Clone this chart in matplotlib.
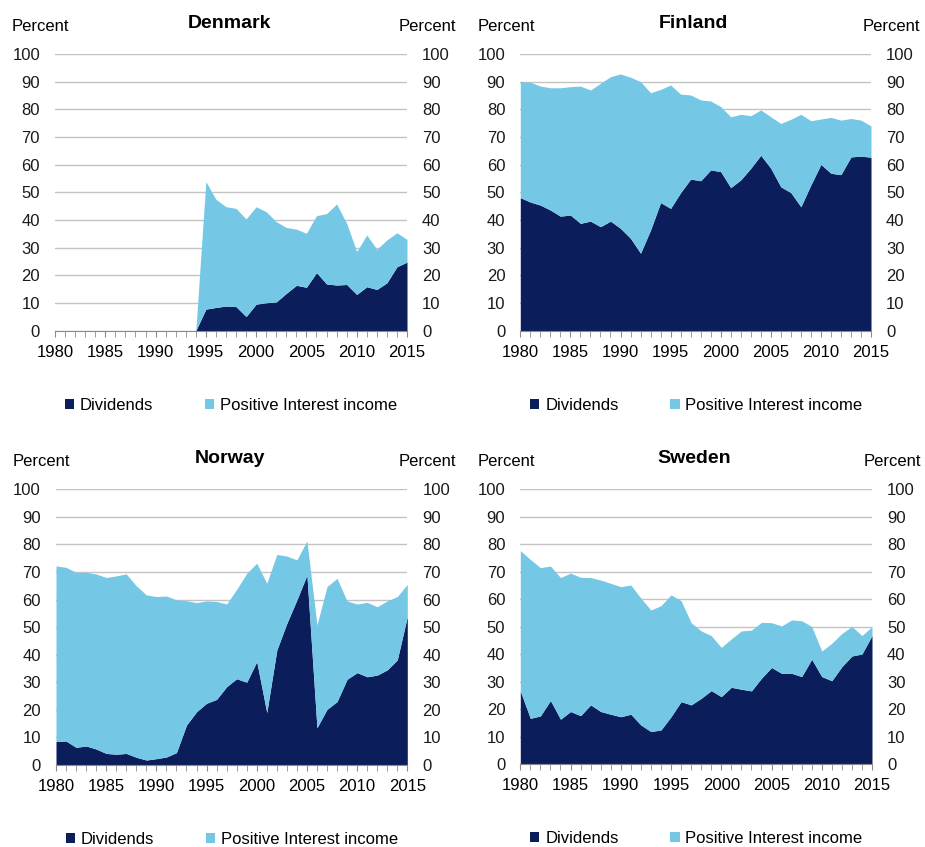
import numpy as np
import matplotlib
matplotlib.use("Agg")
import matplotlib.pyplot as plt
from matplotlib.patches import Patch
from matplotlib.ticker import MultipleLocator

plt.rcParams['font.family'] = ['Liberation Sans', 'DejaVu Sans']

years = np.arange(1980, 2016)

# Denmark: data available from 1995 onwards (zero before)
dk_div = [0]*15 + [7.8, 8.4, 8.9, 8.7, 5.1, 9.6, 10.1, 10.4, 13.5, 16.4, 15.7,
                   21.0, 16.9, 16.5, 16.7, 13.1, 15.9, 14.9, 17.3, 23.1, 24.8]
dk_total = [0]*15 + [53.9, 47.5, 44.8, 44.2, 40.4, 44.8, 43.0, 39.4, 37.3, 36.7, 35.2,
                     41.6, 42.3, 45.8, 38.8, 28.6, 34.6, 29.4, 32.8, 35.4, 33.0]

fi_div = [48.1, 46.5, 45.4, 43.6, 41.4, 41.8, 38.8, 39.6, 37.6, 39.6,
          37.0, 33.4, 28.0, 36.4, 46.3, 44.2, 49.9, 54.8, 54.2, 58.1,
          57.5, 51.7, 54.5, 58.7, 63.4, 58.7, 52.0, 49.9, 44.8, 52.7,
          60.1, 56.9, 56.4, 62.8, 63.1, 62.7]
fi_total = [90.0, 89.8, 88.4, 87.8, 87.8, 88.2, 88.4, 87.0, 89.4, 91.8,
            92.8, 91.6, 90.0, 86.0, 87.2, 88.8, 85.5, 85.2, 83.4, 83.0,
            81.0, 77.3, 78.2, 77.7, 79.8, 77.3, 74.9, 76.4, 78.2, 75.9,
            76.5, 77.1, 76.1, 76.7, 76.1, 74.0]

no_div = [8.5, 8.7, 6.4, 6.9, 5.8, 4.2, 3.9, 4.2, 2.8, 1.8,
          2.3, 2.9, 4.5, 14.5, 19.3, 22.4, 23.8, 28.4, 31.3, 30.0,
          37.5, 19.0, 41.7, 51.4, 59.9, 68.9, 13.5, 20.2, 23.0, 31.1,
          33.5, 32.0, 32.6, 34.5, 38.1, 53.8]
no_total = [72.2, 71.7, 69.9, 69.9, 69.3, 68.0, 68.6, 69.3, 65.0, 61.7,
            61.1, 61.3, 59.9, 59.6, 58.9, 59.5, 59.3, 58.4, 63.7, 69.5,
            73.2, 65.9, 76.4, 75.8, 74.4, 81.3, 50.8, 64.7, 67.7, 59.5,
            58.4, 59.0, 57.4, 59.5, 61.1, 65.5]

se_div = [26.7, 16.7, 17.6, 23.2, 16.4, 19.2, 17.7, 21.6, 19.2, 18.2,
          17.3, 18.2, 14.3, 11.9, 12.5, 17.3, 22.8, 21.6, 24.0, 26.8,
          24.6, 28.0, 27.3, 26.7, 31.3, 35.2, 33.1, 33.1, 31.9, 38.2,
          31.9, 30.4, 35.5, 39.4, 40.1, 46.8]
se_total = [77.7, 74.5, 71.5, 72.1, 67.9, 69.5, 68.0, 67.9, 67.0, 65.8,
            64.6, 65.2, 60.4, 56.1, 57.7, 61.6, 59.5, 51.5, 48.5, 46.8,
            42.5, 45.6, 48.5, 48.8, 51.6, 51.5, 50.3, 52.5, 52.2, 50.1,
            41.2, 44.0, 47.6, 50.1, 46.8, 50.1]

countries = ["Denmark", "Finland", "Norway", "Sweden"]
series = {
    "Denmark": (dk_div, dk_total),
    "Finland": (fi_div, fi_total),
    "Norway": (no_div, no_total),
    "Sweden": (se_div, se_total),
}
legend_labels = ["Dividends", "Positive Interest income"]

DARK = "#0b1e5b"
LIGHT = "#74c8e6"
GRID = "#c3c3c3"
AXIS = "#8c8c8c"
FS = 12

W, H = 925, 847
fig = plt.figure(figsize=(W/100, H/100), dpi=100)

# panel geometry in pixels: left, right, y of zero line, y of 100 line
boxes = {
    "Denmark": (55, 407, 330.7, 54),
    "Finland": (520.3, 871, 330.7, 54),
    "Norway": (56, 407.3, 765, 489.3),
    "Sweden": (520.3, 872, 764.3, 489.3),
}

for name in countries:
    x0, x1, y0, y100 = boxes[name]
    ax = fig.add_axes([x0/W, 1 - y0/H, (x1 - x0)/W, (y0 - y100)/H])
    div, total = series[name]
    div = np.array(div)
    total = np.array(total)
    ax.fill_between(years, 0, div, color=DARK, lw=0, zorder=3)
    ax.fill_between(years, div, total, color=LIGHT, lw=0, zorder=3)

    ax.set_xlim(1980, 2015)
    ax.set_ylim(0, 100)
    ax.set_yticks(np.arange(0, 101, 10))
    ax.yaxis.grid(True, color=GRID, lw=1.0, zorder=0)
    ax.set_axisbelow(True)
    for s in ["top", "left", "right"]:
        ax.spines[s].set_visible(False)
    ax.spines["bottom"].set_color(AXIS)
    ax.spines["bottom"].set_zorder(4)

    ax.xaxis.set_major_locator(MultipleLocator(5))
    ax.xaxis.set_minor_locator(MultipleLocator(1))
    ax.tick_params(axis="x", which="both", direction="out", length=4.5,
                   color=AXIS, labelsize=FS, pad=5.5)
    ax.tick_params(axis="y", length=0, labelsize=FS, pad=10.8,
                   labelleft=True, labelright=True)
    for lab in ax.get_yticklabels():
        lab.set_color("#1a1a1a")

    cx = (x0 + x1) / 2
    fig.text((cx - 2) / W, 1 - (y100 - 26) / H, name, ha="center", va="baseline",
             fontsize=14, fontweight="bold")
    fig.text((x0 - 43) / W, 1 - (y100 - 23) / H, "Percent", ha="left",
             va="baseline", fontsize=FS)
    fig.text(min(x1 + 49, W - 2) / W, 1 - (y100 - 23) / H, "Percent", ha="right",
             va="baseline", fontsize=FS)

    handles = [Patch(facecolor=DARK, edgecolor="none", label=legend_labels[0]),
               Patch(facecolor=LIGHT, edgecolor="none", label=legend_labels[1])]
    ax.legend(handles=handles, ncol=2, frameon=False, fontsize=FS,
              loc="center left",
              bbox_to_anchor=((x0 + 10) / W, 1 - (y0 + 74.5) / H),
              bbox_transform=fig.transFigure,
              handlelength=0.55, handleheight=0.55, handletextpad=0.35,
              columnspacing=3.1, borderpad=0, borderaxespad=0)

fig.savefig("out.png", dpi=100)
